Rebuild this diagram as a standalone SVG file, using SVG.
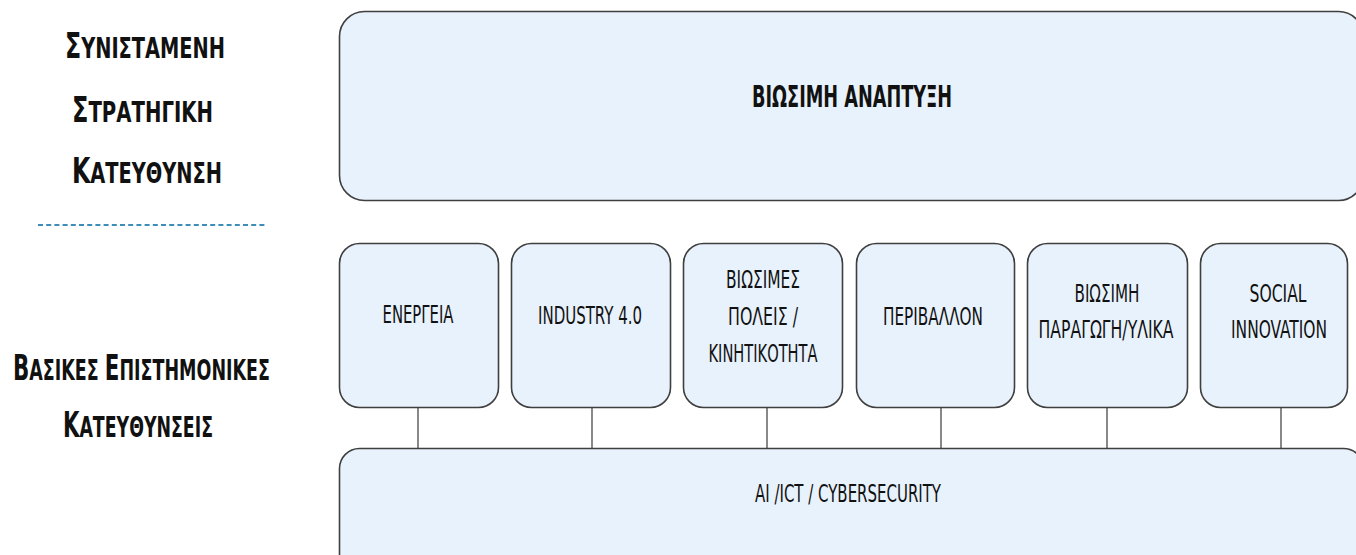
<svg xmlns="http://www.w3.org/2000/svg" width="1356" height="555" viewBox="0 0 1356 555">
  <style>
    .box { fill: #e8f2fc; stroke: #3f3f3f; stroke-width: 1.6; }
    .conn { stroke: #3a3a3a; stroke-width: 1.2; fill: none; }
    .lbl { font-family: "DejaVu Sans Condensed", "DejaVu Sans", "Liberation Sans", sans-serif; font-stretch: condensed; fill: #111; text-anchor: middle; }
    .node { font-size: 15px; }
    .head { font-size: 18px; font-weight: bold; text-anchor: start; }
    .big { font-size: 22px; }
    .title { font-size: 18px; font-weight: bold; }
    .dash { stroke: #3e8db8; stroke-width: 2; stroke-dasharray: 5 3.2; }
  </style>
  <rect width="1356" height="555" fill="#ffffff"/>

  <g id="left-labels">
    <text class="lbl head" transform="translate(65,58) scale(1,1.6)" textLength="160" lengthAdjust="spacingAndGlyphs"><tspan class="big">Σ</tspan>ΥΝΙΣΤΑΜΕΝΗ</text>
    <text class="lbl head" transform="translate(72,122) scale(1,1.6)" textLength="141" lengthAdjust="spacingAndGlyphs"><tspan class="big">Σ</tspan>ΤΡΑΤΗΓΙΚΗ</text>
    <text class="lbl head" transform="translate(72,183) scale(1,1.6)" textLength="150" lengthAdjust="spacingAndGlyphs"><tspan class="big">Κ</tspan>ΑΤΕΥΘΥΝΣΗ</text>
    <line class="dash" x1="38" y1="225" x2="266" y2="225"/>
    <text class="lbl head" transform="translate(13,380) scale(1,1.6)" textLength="257" lengthAdjust="spacingAndGlyphs"><tspan class="big">Β</tspan>ΑΣΙΚΕΣ <tspan class="big">Ε</tspan>ΠΙΣΤΗΜΟΝΙΚΕΣ</text>
    <text class="lbl head" transform="translate(63,437) scale(1,1.6)" textLength="150" lengthAdjust="spacingAndGlyphs"><tspan class="big">Κ</tspan>ΑΤΕΥΘΥΝΣΕΙΣ</text>
  </g>

  <g id="connectors">
    <line class="conn" x1="418" y1="407" x2="418" y2="449"/>
    <line class="conn" x1="592" y1="407" x2="592" y2="449"/>
    <line class="conn" x1="767" y1="407" x2="767" y2="449"/>
    <line class="conn" x1="941" y1="407" x2="941" y2="449"/>
    <line class="conn" x1="1107" y1="407" x2="1107" y2="449"/>
    <line class="conn" x1="1281" y1="407" x2="1281" y2="449"/>
  </g>

  <g id="node-sustainable">
    <rect class="box" x="339.5" y="11.5" width="1024" height="189" rx="25"/>
    <text class="lbl title" transform="translate(852,107) scale(1,1.68)" textLength="200" lengthAdjust="spacingAndGlyphs">ΒΙΩΣΙΜΗ ΑΝΑΠΤΥΞΗ</text>
  </g>

  <g id="node-energy">
    <rect class="box" x="339.5" y="243.5" width="159" height="164" rx="20"/>
    <text class="lbl node" transform="translate(418,323) scale(1,1.6)" textLength="71" lengthAdjust="spacingAndGlyphs">ΕΝΕΡΓΕΙΑ</text>
  </g>
  <g id="node-industry">
    <rect class="box" x="511.5" y="243.5" width="159" height="164" rx="20"/>
    <text class="lbl node" transform="translate(590,324) scale(1,1.6)" textLength="104" lengthAdjust="spacingAndGlyphs">INDUSTRY 4.0</text>
  </g>
  <g id="node-cities">
    <rect class="box" x="683.5" y="243.5" width="159" height="164" rx="20"/>
    <text class="lbl node" transform="translate(763,288) scale(1,1.6)" textLength="74" lengthAdjust="spacingAndGlyphs">ΒΙΩΣΙΜΕΣ</text>
    <text class="lbl node" transform="translate(763,325) scale(1,1.6)" textLength="70" lengthAdjust="spacingAndGlyphs">ΠΟΛΕΙΣ /</text>
    <text class="lbl node" transform="translate(763,362) scale(1,1.6)" textLength="109" lengthAdjust="spacingAndGlyphs">ΚΙΝΗΤΙΚΟΤΗΤΑ</text>
  </g>
  <g id="node-environment">
    <rect class="box" x="856.5" y="243.5" width="158" height="164" rx="20"/>
    <text class="lbl node" transform="translate(933,325) scale(1,1.6)" textLength="100" lengthAdjust="spacingAndGlyphs">ΠΕΡΙΒΑΛΛΟΝ</text>
  </g>
  <g id="node-production">
    <rect class="box" x="1027.5" y="243.5" width="160" height="164" rx="20"/>
    <text class="lbl node" transform="translate(1107,302) scale(1,1.6)" textLength="65" lengthAdjust="spacingAndGlyphs">ΒΙΩΣΙΜΗ</text>
    <text class="lbl node" transform="translate(1106,338) scale(1,1.6)" textLength="135" lengthAdjust="spacingAndGlyphs">ΠΑΡΑΓΩΓΗ/ΥΛΙΚΑ</text>
  </g>
  <g id="node-social">
    <rect class="box" x="1200.5" y="243.5" width="147" height="164" rx="20"/>
    <text class="lbl node" transform="translate(1278,302) scale(1,1.6)" textLength="57" lengthAdjust="spacingAndGlyphs">SOCIAL</text>
    <text class="lbl node" transform="translate(1279,338) scale(1,1.6)" textLength="96" lengthAdjust="spacingAndGlyphs">INNOVATION</text>
  </g>

  <g id="node-ai">
    <rect class="box" x="339.5" y="448.5" width="1024" height="140" rx="20"/>
    <text class="lbl node" transform="translate(848,502) scale(1,1.6)" textLength="186" lengthAdjust="spacingAndGlyphs">AI /ICT / CYBERSECURITY</text>
  </g>
</svg>
